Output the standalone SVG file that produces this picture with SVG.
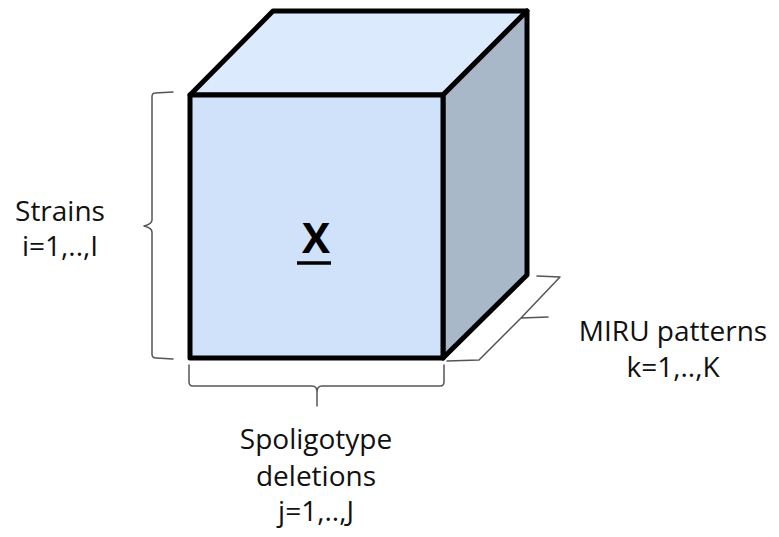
<svg xmlns="http://www.w3.org/2000/svg" width="779" height="537" viewBox="0 0 779 537">
  <style>
    .edge { stroke: #000; stroke-width: 5; stroke-linejoin: round; }
    .brace { fill: none; stroke: #555; stroke-width: 1.5; stroke-linejoin: round; stroke-linecap: round; }
    .lbl { font-family: "Open Sans", "Liberation Sans", sans-serif; font-size: 28px; fill: #111; text-anchor: middle; }
  </style>
  <rect width="779" height="537" fill="#fff"/>

  <!-- cube: top, right and front faces -->
  <g id="cube">
    <polygon class="edge" points="190,95 273,11 527,11 443,95" fill="#dbeafc"/>
    <polygon class="edge" points="443,95 527,11 527,275 443,358" fill="#a8b8c9"/>
    <rect class="edge" x="190" y="95" width="253" height="263" fill="#cfe2fa"/>
    <text x="316" y="253" font-family="Open Sans, Liberation Sans, sans-serif" font-size="42" font-weight="bold" text-anchor="middle" fill="#000">X</text>
    <line x1="297" y1="263" x2="331" y2="263" stroke="#000" stroke-width="3.5"/>
  </g>

  <!-- dimension braces -->
  <g id="braces">
    <path class="brace" d="M173,92 L155,93 Q152,93 152,97 L152,220 Q152,224 144,226 Q152,228 152,232 L152,354 Q152,358 156,358 L173,359"/>
    <path class="brace" d="M189,365 L189,382 Q189,386 193,386 L312,386 Q317,386 317,392 L317,406 M317,392 Q317,386 322,386 L440,386 Q444,386 444,382 L444,365"/>
    <path class="brace" d="M537,276 L560,277 L521,318 L479,360 L447,361 M521,318 L548,317"/>
  </g>

  <g id="labels">
    <text class="lbl" x="60" y="221">Strains</text>
    <text class="lbl" x="60" y="256">i=1,..,I</text>
    <text class="lbl" x="673" y="341">MIRU patterns</text>
    <text class="lbl" x="673" y="377">k=1,..,K</text>
    <text class="lbl" x="316" y="449">Spoligotype</text>
    <text class="lbl" x="316" y="486">deletions</text>
    <text class="lbl" x="316" y="521">j=1,..,J</text>
  </g>
</svg>
